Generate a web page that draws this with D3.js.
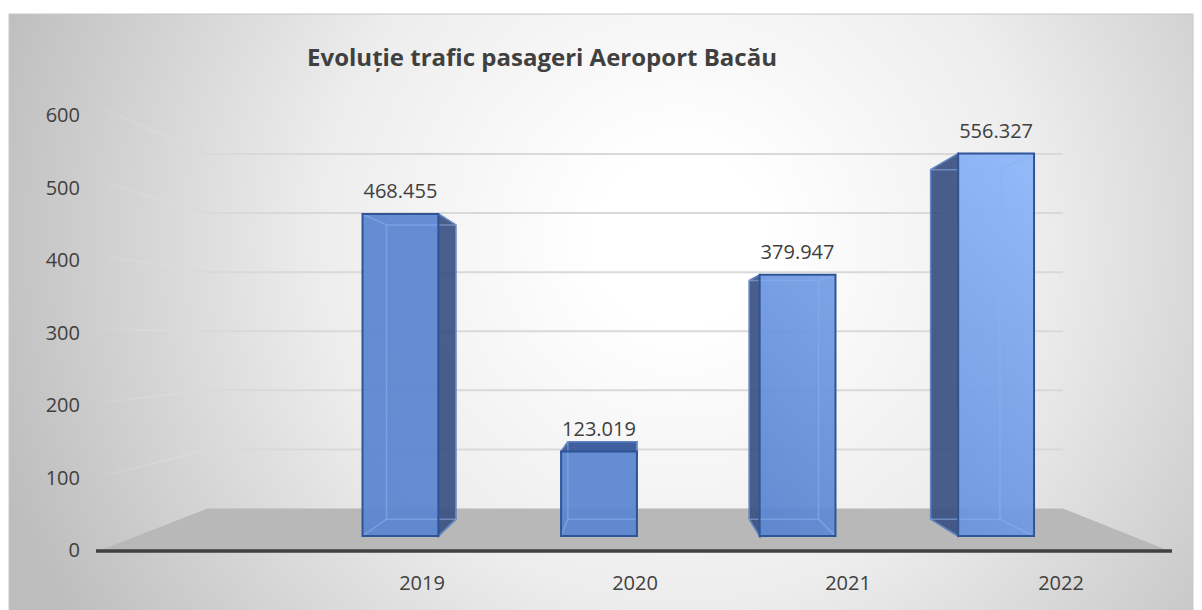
<!DOCTYPE html>
<html>
<head>
<meta charset="utf-8">
<script src="https://cdn.jsdelivr.net/npm/d3@7"></script>
<style>
  body { margin: 0; background: #fff; }
  text { font-family: "Open Sans", sans-serif; fill: #404040; }
</style>
</head>
<body>
<div id="chart"></div>
<script>
const years = ["2019", "2020", "2021", "2022"];
const passengers = [468.455, 123.019, 379.947, 556.327];
const yTicks = [0, 100, 200, 300, 400, 500, 600];
const title = "Evoluție trafic pasageri Aeroport Bacău";

const W = 1202, H = 610;

// perspective: vanishing point + depth factors (1 = front of floor)
const VP = [640, 340];
const S_BACK = 0.795, S_BAR_FRONT = 0.925, S_BAR_BACK = 0.845;
const BAR_W = 82;
const FLOOR_X0 = 96, FLOOR_X1 = 1172;

const proj = (px, py, s) => [VP[0] + s * (px - VP[0]), VP[1] + s * (py - VP[1])];

const svg = d3.select("#chart").append("svg").attr("width", W).attr("height", H);
const defs = svg.append("defs");

const bg = defs.append("radialGradient").attr("id", "bg")
  .attr("gradientUnits", "userSpaceOnUse")
  .attr("cx", 680).attr("cy", 240).attr("r", 720);
bg.append("stop").attr("offset", 0.12).attr("stop-color", "#ffffff");
bg.append("stop").attr("offset", 0.5).attr("stop-color", "#ededed");
bg.append("stop").attr("offset", 1).attr("stop-color", "#bdbdbd");

const barGrad = defs.append("linearGradient").attr("id", "barGrad")
  .attr("gradientUnits", "userSpaceOnUse")
  .attr("x1", 700).attr("y1", 450).attr("x2", 1000).attr("y2", 150);
barGrad.append("stop").attr("offset", 0).attr("stop-color", "#5a85d0");
barGrad.append("stop").attr("offset", 1).attr("stop-color", "#8ab4f8");

const sideGrad = defs.append("linearGradient").attr("id", "sideGrad")
  .attr("x1", 0).attr("x2", 1);
sideGrad.append("stop").attr("offset", 0).attr("stop-color", "#e0e0e0").attr("stop-opacity", 0.05);
sideGrad.append("stop").attr("offset", 1).attr("stop-color", "#d9d9d9").attr("stop-opacity", 0.9);

svg.append("rect")
  .attr("x", 9).attr("y", 14).attr("width", 1184).attr("height", 610)
  .attr("fill", "url(#bg)").attr("stroke", "#c8c8c8");

const y = d3.scaleLinear().domain([0, 600]).range([552, 106]);
const x = d3.scalePoint().domain(years).range([381, 1025]);
const xLabel = d3.scalePoint().domain(years).range([422, 1061]);
const yLabel = d3.scaleLinear().domain([0, 600]).range([550, 115]);

const line = d3.line();

// back wall gridlines
svg.append("g").selectAll("path")
  .data(yTicks.filter((t) => t > 0))
  .join("path")
  .attr("d", (t) => line([proj(FLOOR_X0, y(t), S_BACK), proj(FLOOR_X1, y(t), S_BACK)]))
  .attr("stroke", "#d9d9d9").attr("stroke-width", 2).attr("fill", "none");

// side wall lines
svg.append("g").selectAll("path")
  .data(yTicks.filter((t) => t > 0))
  .join("path")
  .attr("d", (t) => line([proj(FLOOR_X0, y(t), 1), proj(FLOOR_X0 + 0.5, y(t) + 0.01, S_BACK)]))
  .attr("stroke", "url(#sideGrad)").attr("stroke-width", 2).attr("fill", "none");

// floor
svg.append("path")
  .attr("d", line([
    proj(FLOOR_X0, y(0), 1), proj(FLOOR_X0, y(0), S_BACK),
    proj(FLOOR_X1, y(0), S_BACK), proj(FLOOR_X1, y(0), 1)
  ]) + "Z")
  .attr("fill", "#b8b8b8");

svg.append("line")
  .attr("x1", FLOOR_X0).attr("x2", FLOOR_X1)
  .attr("y1", y(0) - 1).attr("y2", y(0) - 1)
  .attr("stroke", "#404040").attr("stroke-width", 3.5);

// bars
const data = years.map((yr, i) => ({ year: yr, value: passengers[i] }));

const bars = svg.append("g").selectAll("g").data(data).join("g");

bars.each(function (d) {
  const g = d3.select(this);
  const x0 = x(d.year) - BAR_W / 2, x1 = x(d.year) + BAR_W / 2;
  const yb = y(0), yt = y(d.value);
  const F = (px, py) => proj(px, py, S_BAR_FRONT);
  const B = (px, py) => proj(px, py, S_BAR_BACK);
  const front = [F(x0, yt), F(x1, yt), F(x1, yb), F(x0, yb)];
  const back = [B(x0, yt), B(x1, yt), B(x1, yb), B(x0, yb)];

  let side = null;
  if (F(x1, yt)[0] < VP[0]) side = [F(x1, yt), B(x1, yt), B(x1, yb), F(x1, yb)];
  else if (F(x0, yt)[0] > VP[0]) side = [F(x0, yt), B(x0, yt), B(x0, yb), F(x0, yb)];

  if (side) {
    g.append("path").attr("d", line(side) + "Z")
      .attr("fill", "#3a5080").attr("fill-opacity", 0.92)
      .attr("stroke", "#2f5597").attr("stroke-width", 1.5);
  }
  if (F(x0, yt)[1] > VP[1]) {
    g.append("path").attr("d", line([F(x0, yt), F(x1, yt), B(x1, yt), B(x0, yt)]) + "Z")
      .attr("fill", "#3f5f9f").attr("stroke", "#2f5597").attr("stroke-width", 1.5);
  }
  g.append("path").attr("d", line(front) + "Z")
    .attr("fill", "url(#barGrad)").attr("fill-opacity", 0.93);

  // hidden edges seen through the glass-like bar
  const inner = g.append("g").attr("stroke", "#8cb0ee").attr("stroke-opacity", 0.55)
    .attr("stroke-width", 1.5).attr("fill", "none");
  inner.append("path").attr("d", line(back) + "Z");
  front.forEach((p, i) => inner.append("path").attr("d", line([p, back[i]])));

  g.append("path").attr("d", line(front) + "Z")
    .attr("fill", "none").attr("stroke", "#2f5597").attr("stroke-width", 2);

  const top = F(x(d.year), yt);
  g.append("text")
    .attr("x", top[0]).attr("y", top[1] - 16)
    .attr("text-anchor", "middle")
    .attr("font-size", 20)
    .text(d3.format(".3f")(d.value));
});

// y tick labels
svg.append("g").selectAll("text")
  .data(yTicks)
  .join("text")
  .attr("x", 80).attr("y", (t) => yLabel(t))
  .attr("dy", "0.35em")
  .attr("text-anchor", "end")
  .attr("font-size", 20)
  .text((t) => t);

// x labels
svg.append("g").selectAll("text")
  .data(years)
  .join("text")
  .attr("x", (yr) => xLabel(yr)).attr("y", 583)
  .attr("dy", "0.35em")
  .attr("text-anchor", "middle")
  .attr("font-size", 20)
  .text((yr) => yr);

svg.append("text")
  .attr("x", 542).attr("y", 66)
  .attr("text-anchor", "middle")
  .attr("font-size", 24)
  .attr("font-weight", "bold")
  .text(title);
</script>
</body>
</html>
